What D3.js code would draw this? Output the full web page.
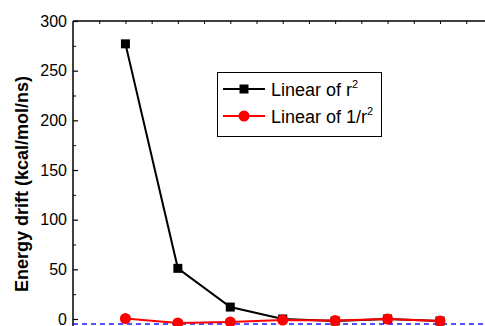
<!DOCTYPE html>
<html>
<head>
<meta charset="utf-8">
<script src="https://cdn.jsdelivr.net/npm/d3@7"></script>
<style>
    body { margin: 0; background: #fff; }
    svg { display: block; }
</style>
</head>
<body>
<div id="chart"></div>
<script>
// data
var xIndex = [1, 2, 3, 4, 5, 6, 7];
var linearR2 = [277, 51, 12, 0, -2, 0, -2];
var linearInvR2 = [0.5, -4, -3, -1, -1.5, 0, -2];
var yTickValues = [0, 50, 100, 150, 200, 250, 300];
var yMinorValues = [25, 75, 125, 175, 225, 275];
var xTickValues = [0.5, 1, 1.5, 2, 2.5, 3, 3.5, 4, 4.5, 5, 5.5, 6, 6.5, 7, 7.5];
var baselineValue = -5;
var seriesNames = ['Linear of r', 'Linear of 1/r'];

var fullWidth = 485;
var fullHeight = 326;
var mainFont = '"Liberation Sans", Arial, sans-serif';

var axisX = 73;
var axisTop = 21;

window.onload = function() {
    render();
};

function render() {
    var svg = d3.select('#chart').append('svg')
        .attr('width', fullWidth)
        .attr('height', fullHeight);

    var x = d3.scaleLinear().domain([0, 7]).range([axisX, 440]);
    var y = d3.scaleLinear().domain([0, 300]).range([319, axisTop]);

    // blue dashed reference line
    svg.append('line')
        .attr('x1', axisX).attr('x2', fullWidth)
        .attr('y1', y(baselineValue)).attr('y2', y(baselineValue))
        .attr('stroke', '#1a1aff')
        .attr('stroke-width', 1.5)
        .attr('stroke-dasharray', '5 4');

    // frame lines (plot is cut at right and bottom)
    svg.append('line')
        .attr('x1', axisX).attr('x2', axisX)
        .attr('y1', axisTop).attr('y2', fullHeight)
        .attr('stroke', '#000').attr('stroke-width', 1.5);
    svg.append('line')
        .attr('x1', axisX).attr('x2', fullWidth)
        .attr('y1', axisTop).attr('y2', axisTop)
        .attr('stroke', '#000').attr('stroke-width', 1.5);

    // left axis, ticks pointing in
    var yAxis = svg.append('g')
        .attr('transform', 'translate(' + axisX + ',0)')
        .call(d3.axisLeft(y).tickValues(yTickValues).tickSizeInner(-5).tickSizeOuter(0).tickPadding(6));
    yAxis.select('.domain').remove();
    yAxis.selectAll('.tick line').attr('stroke', '#000').attr('stroke-width', 1.2);
    yAxis.selectAll('.tick text')
        .style('font-family', mainFont)
        .style('font-size', '16px')
        .attr('fill', '#000');

    var yMinor = svg.append('g')
        .attr('transform', 'translate(' + axisX + ',0)')
        .call(d3.axisLeft(y).tickValues(yMinorValues).tickSizeInner(-3).tickSizeOuter(0).tickFormat(''));
    yMinor.select('.domain').remove();
    yMinor.selectAll('.tick line').attr('stroke', '#000');

    // top axis ticks pointing in
    var xTop = svg.append('g')
        .attr('transform', 'translate(0,' + axisTop + ')')
        .call(d3.axisBottom(x).tickValues(xTickValues).tickSizeInner(3).tickSizeOuter(0).tickFormat(''));
    xTop.select('.domain').remove();
    xTop.selectAll('.tick line').attr('stroke', '#000');

    // y axis title
    svg.append('text')
        .attr('transform', 'translate(28,184) rotate(-90)')
        .style('text-anchor', 'middle')
        .style('font-family', mainFont)
        .style('font-weight', 'bold')
        .style('font-size', '18px')
        .text('Energy drift (kcal/mol/ns)');

    var line = d3.line()
        .x(function(d, i) { return x(xIndex[i]); })
        .y(function(d) { return y(d); });

    // black series
    svg.append('path')
        .attr('d', line(linearR2))
        .attr('fill', 'none')
        .attr('stroke', '#000')
        .attr('stroke-width', 2);
    svg.selectAll('.sq').data(linearR2).enter().append('rect')
        .attr('x', function(d, i) { return x(xIndex[i]) - 4.5; })
        .attr('y', function(d) { return y(d) - 4.5; })
        .attr('width', 9).attr('height', 9)
        .attr('fill', '#000');

    // red series
    svg.append('path')
        .attr('d', line(linearInvR2))
        .attr('fill', 'none')
        .attr('stroke', '#ff0000')
        .attr('stroke-width', 2);
    svg.selectAll('.dot').data(linearInvR2).enter().append('circle')
        .attr('cx', function(d, i) { return x(xIndex[i]); })
        .attr('cy', function(d) { return y(d); })
        .attr('r', 5.5)
        .attr('fill', '#ff0000');

    makeLegend(svg);
}

function makeLegend(svg) {
    var lx = 217, ly = 72;
    svg.append('rect')
        .attr('x', lx + 0.5).attr('y', ly + 0.5)
        .attr('width', 164).attr('height', 64)
        .attr('fill', '#fff')
        .attr('stroke', '#000')
        .attr('stroke-width', 1);

    var rows = [
        { name: seriesNames[0], color: '#000', y: ly + 17 },
        { name: seriesNames[1], color: '#ff0000', y: ly + 44 }
    ];
    rows.forEach(function(r, i) {
        svg.append('line')
            .attr('x1', lx + 6).attr('x2', lx + 48)
            .attr('y1', r.y).attr('y2', r.y)
            .attr('stroke', r.color).attr('stroke-width', 2);
        if (i === 0) {
            svg.append('rect')
                .attr('x', lx + 27 - 4.5).attr('y', r.y - 4.5)
                .attr('width', 9).attr('height', 9)
                .attr('fill', r.color);
        } else {
            svg.append('circle')
                .attr('cx', lx + 27).attr('cy', r.y)
                .attr('r', 5.5)
                .attr('fill', r.color);
        }
        var t = svg.append('text')
            .attr('x', lx + 54)
            .attr('y', r.y + 6.5)
            .style('font-family', mainFont)
            .style('font-size', '18px')
            .text(r.name);
        t.append('tspan')
            .attr('dy', -8)
            .style('font-size', '11px')
            .text('2');
    });
}
</script>
</body>
</html>
